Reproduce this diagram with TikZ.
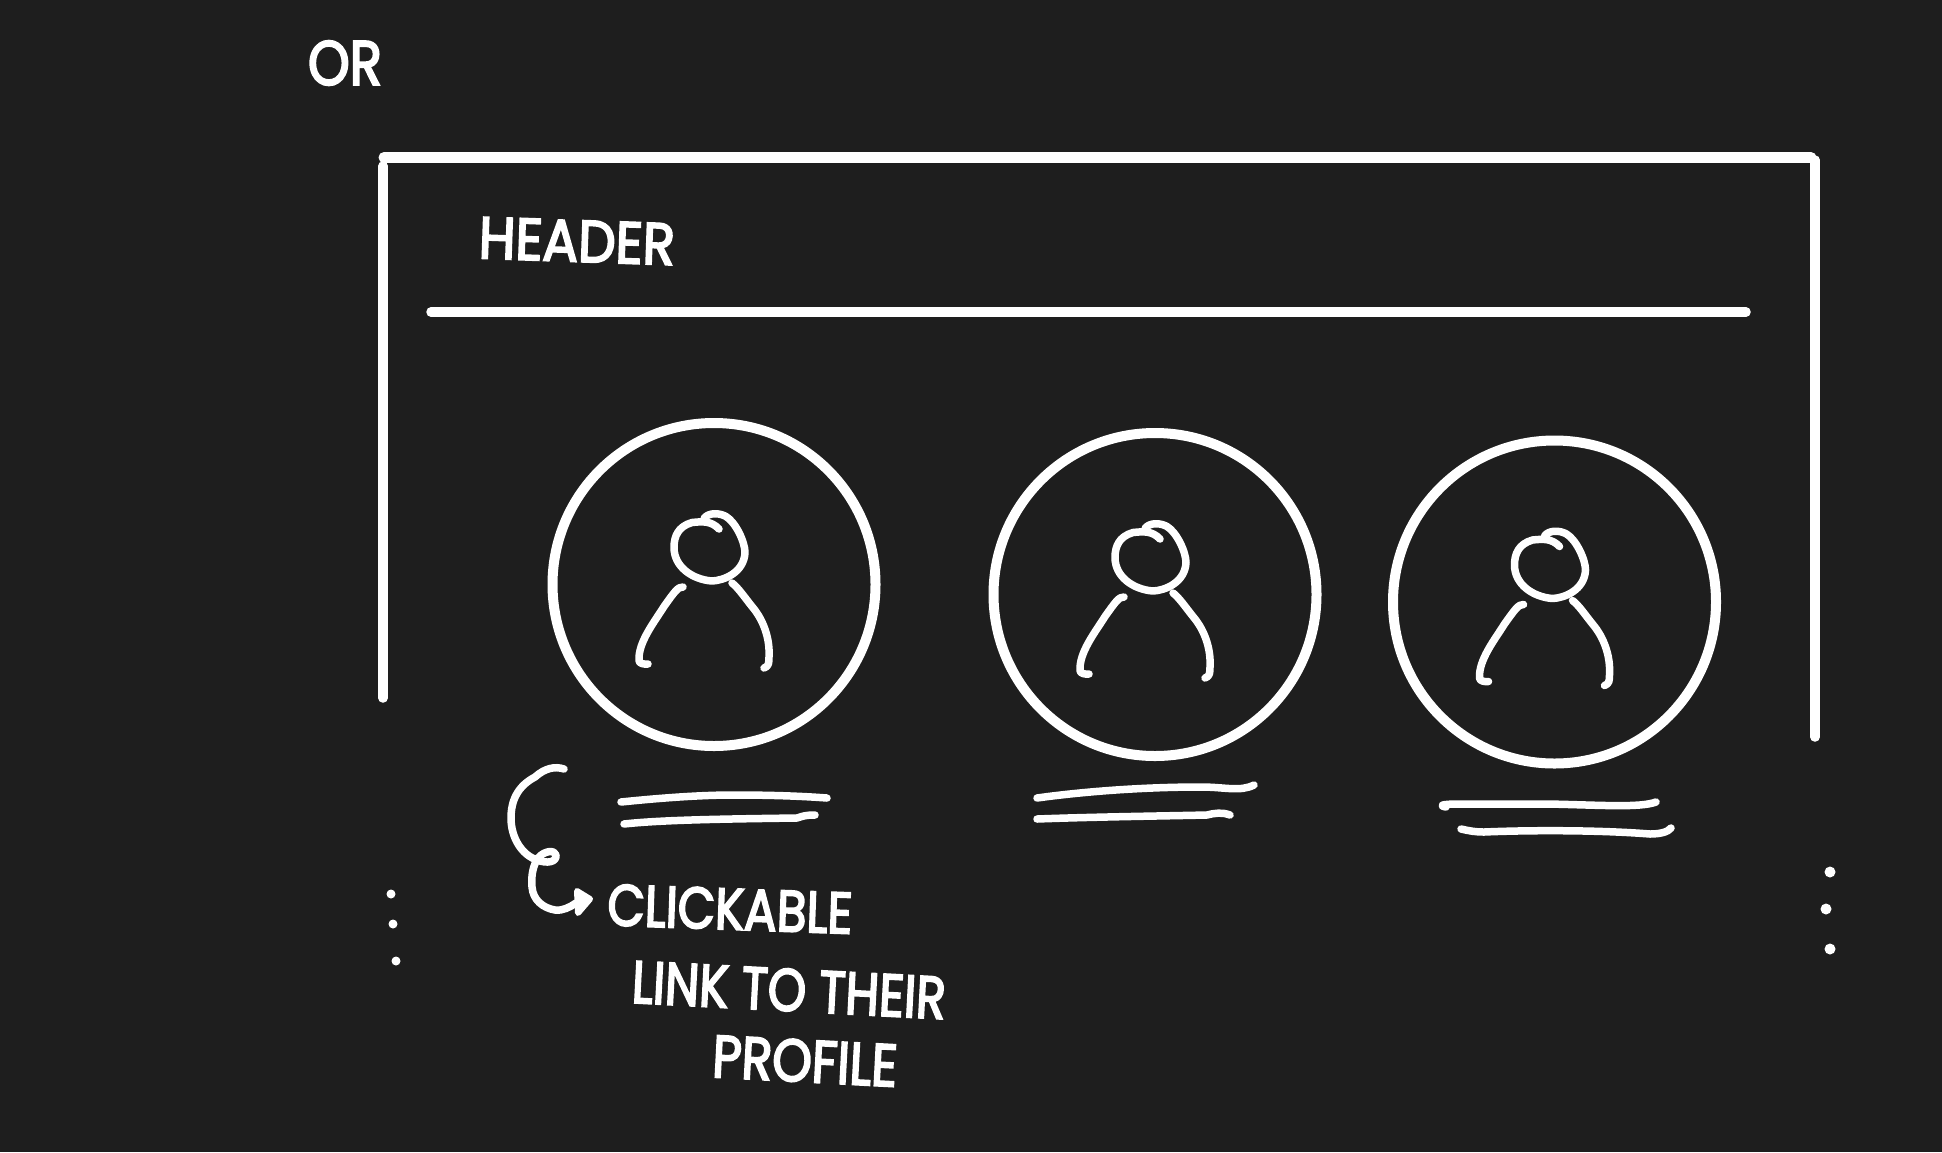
\documentclass[tikz,border=0pt]{standalone}
\usepackage{fontspec}
\setmainfont{Poppins}[FakeBold=3.5]
\definecolor{board}{HTML}{1E1E1E}
\newcommand{\fitted}[3]{\resizebox{#1pt}{#2pt}{#3}}
\tikzset{
  ink/.style={draw=white,line cap=round,line join=round,line width=#1},
  ink/.default=6pt,
  frameline/.style={ink=9.5pt},
  rough/.style={ink=7.5pt},
  avatar/.style={circle,draw=white,line width=10pt,minimum size=323pt,inner sep=0pt},
  hand/.style={text=white,inner sep=0pt,outer sep=0pt},
  dotmark/.style={circle,fill=white,inner sep=0pt,minimum size=#1},
  person/.pic={
    \draw[rough] (5,-55.5) .. controls (-3,-64) and (-12,-63) .. (-22,-62) .. controls (-36,-58) and (-40,-48) .. (-40,-37) .. controls (-40,-18) and (-22,-5) .. (-2,-3.5) .. controls (10,-4) and (30,-12) .. (31,-32) .. controls (31,-42) and (22,-62) .. (12,-68) .. controls (5,-72) and (-6,-72) .. (-10,-66);
    \draw[rough] (-31,2.5) .. controls (-36,2) and (-40,8) .. (-50,22) .. controls (-60,38) and (-76,58) .. (-75,76) .. controls (-75,79) and (-70,80) .. (-66,79.5);
    \draw[rough] (18,-1.5) .. controls (24,3) and (30,12) .. (38,22) .. controls (50,36) and (56,55) .. (55,72) .. controls (55,78) and (55,82) .. (50,83.5);
  }
}
\begin{document}
\begin{tikzpicture}[x=1pt,y=-1pt]
\fill[board] (0,0) rectangle (1942,1152);
\useasboundingbox (0,0) rectangle (1942,1152);

% frame
\draw[frameline,line width=11pt] (384,157.5) -- (1811,157.5);
\draw[frameline] (383,166) -- (383,698);
\draw[frameline] (1815,160) -- (1815,737);
\draw[frameline] (431,312) -- (1746,312);

% labels
\node[hand] (orlabel) at (345,63) {\fitted{74}{44}{OR}};
\node[hand,rotate=-2] (header) at (577,241) {\fitted{196}{41}{HEADER}};
\node[hand,rotate=-2] (clickable) at (730,909) {\fitted{245}{41}{CLICKABLE}};
\node[hand,rotate=-3] (linkto) at (789,990) {\fitted{314}{42}{LINK TO THEIR}};
\node[hand,rotate=-3] (profile) at (805,1061) {\fitted{185}{42}{PROFILE}};

% avatars
\node[avatar] (a1) at (714,584.5) {};
\node[avatar] (a2) at (1155,594.5) {};
\node[avatar] (a3) at (1554.5,602) {};
\pic at (a1.center) {person};
\pic at (a2.center) {person};
\pic at (a3.center) {person};

% underlines
\draw[rough] (621,802) .. controls (660,798) and (700,795) .. (733,795) .. controls (770,795) and (800,796) .. (827,798);
\draw[rough] (624,824) .. controls (660,820) and (720,819) .. (797,818) .. controls (803,816) and (806,815) .. (815,815);
\draw[rough] (1037,798) .. controls (1080,792) and (1140,787) .. (1201,787) .. controls (1225,787) and (1240,792) .. (1254,785);
\draw[rough] (1037,819) .. controls (1090,817) and (1160,816) .. (1207,815) .. controls (1215,813) and (1222,812) .. (1230,815);
\draw[rough] (1446,807) .. controls (1440,806) and (1438,804) .. (1460,804) -- (1548,804) .. controls (1600,805) and (1640,808) .. (1656,802);
\draw[rough] (1461,829) .. controls (1470,831) and (1475,832) .. (1484,832) .. controls (1530,830) and (1600,830) .. (1650,834) .. controls (1660,834) and (1668,832) .. (1671,828);

% curly arrow
\coordinate (curlstart) at (564,769);
\coordinate (curlend) at (576,903);
\draw[rough] (curlstart) .. controls (555,766) and (545,768) .. (535,777) .. controls (518,786) and (511,800) .. (511,818) .. controls (511,838) and (522,855) .. (537,860) .. controls (547,864) and (557,862) .. (556,855) .. controls (555,850) and (545,850) .. (538,858) .. controls (533,866) and (531,875) .. (532,887) .. controls (533,900) and (543,908) .. (555,910) .. controls (563,911) and (570,907) .. (curlend);
\filldraw[ink=6pt,fill=white] (577,891) -- (590,899) -- (578,913) -- cycle;

% dots
\node[dotmark=9pt] (l1) at (391,894) {};
\node[dotmark=9pt] (l2) at (393,924) {};
\node[dotmark=9pt] (l3) at (396,961) {};
\node[dotmark=11pt] (r1) at (1830,872) {};
\node[dotmark=11pt] (r2) at (1826,909) {};
\node[dotmark=11pt] (r3) at (1830,949) {};
\end{tikzpicture}
\end{document}
